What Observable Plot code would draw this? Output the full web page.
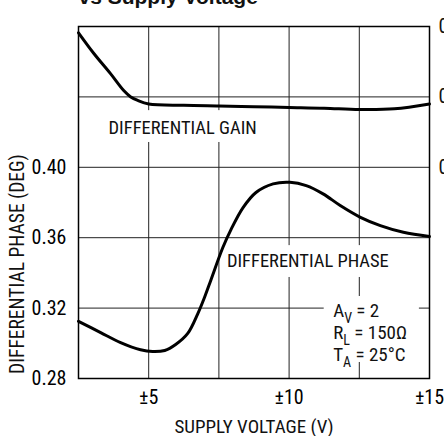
<!DOCTYPE html>
<html><head><meta charset="utf-8">
<script src="https://cdn.jsdelivr.net/npm/d3@7"></script>
<script src="https://cdn.jsdelivr.net/npm/@observablehq/plot@0.6"></script>
<style>
body{margin:0;background:#fff;}
#chart svg{display:block;}
</style></head><body><div id="chart"></div>
<script>
// ---- data ----
const gainSupply = [2.5, 3.04, 3.64, 4.11, 4.36, 4.61, 5.0, 6.25, 7.5, 8.75, 10, 11.25, 12.5, 13.75, 15];
const gainPct    = [0.0291, 0.0262, 0.0233, 0.0209, 0.0200, 0.0195, 0.0190, 0.0188, 0.0187, 0.0186, 0.0185, 0.0184, 0.0182, 0.0183, 0.0190];
const phaseSupply = [2.5, 3.29, 4.0, 4.71, 5.14, 5.57, 5.96, 6.39, 6.75, 7.0, 7.21, 7.64, 7.93, 8.36, 8.82, 9.43, 10.03, 10.61, 11.21, 11.82, 12.54, 13.25, 14.07, 15];
const phaseDeg    = [0.3125, 0.3061, 0.3004, 0.2963, 0.2953, 0.2959, 0.2993, 0.3056, 0.3169, 0.3266, 0.3357, 0.3544, 0.3646, 0.3771, 0.3857, 0.3906, 0.3915, 0.3896, 0.3849, 0.3783, 0.3716, 0.3669, 0.3631, 0.3607];

const xTicks = [5, 10, 15];
const xTickLabels = ["±5", "±10", "±15"];
const yTicks = [0.28, 0.32, 0.36, 0.40];
const yTickLabels = ["0.28", "0.32", "0.36", "0.40"];
const gainTicks = [0.03, 0.02, 0.01];
const gainTickLabels = ["0.03", "0.02", "0.01"];
const gridX = [5, 7.5, 10, 12.5];
const gridY = [0.32, 0.36, 0.40, 0.44];

const titleText = "vs Supply Voltage";
const xLabel = "SUPPLY VOLTAGE (V)";
const yLabel = "DIFFERENTIAL PHASE (DEG)";
const curveLabels = ["DIFFERENTIAL GAIN", "DIFFERENTIAL PHASE"];
const curveLabelX = [3.57, 7.786];
const curveLabelY = [0.4192, 0.3431];
const condMain = ["A", "R", "T"];
const condSub = ["V", "L", "A"];
const condRest = [" = 2", " = 150Ω", " = 25°C"];
const condX = 11.57;
const condY = [0.3147, 0.3027, 0.2902];
const yLabelCenter = 0.345;
// blank areas where the grid is interrupted behind the labels (x1, x2 in volts; y1, y2 on the phase axis)
const gapX1 = [3.29, 7.57, 11.25];
const gapX2 = [9.21, 13.86, 14.64];
const gapY1 = [0.4141, 0.3374, 0.2891];
const gapY2 = [0.4322, 0.3555, 0.3266];

// gain (right axis) mapped onto the phase axis
const gainToAxis = g => 0.40 + (g - 0.01) * 4;

const gainRows = gainSupply.map((v, i) => ({v, y: gainToAxis(gainPct[i])}));
const phaseRows = phaseSupply.map((v, i) => ({v, y: phaseDeg[i]}));
const labelRows = curveLabels.map((t, i) => ({t, x: curveLabelX[i], y: curveLabelY[i]}));
const condRows = condMain.map((m, i) => ({t: m + condSub[i] + condRest[i], x: condX, y: condY[i]}));
const gapRows = gapX1.map((x1, i) => ({x1, x2: gapX2[i], y1: gapY1[i], y2: gapY2[i]}));
const gainTickRows = gainTicks.map((g, i) => ({y: gainToAxis(g), t: gainTickLabels[i]}));

const font = "'Liberation Sans Narrow','Arial Narrow','Roboto Condensed',sans-serif";

const plot = Plot.plot({
  width: 444, height: 436,
  marginLeft: 78, marginRight: 15, marginTop: 26, marginBottom: 58,
  style: {fontFamily: font, fontSize: "20px", background: "white", color: "black"},
  x: {domain: [2.5, 15], ticks: xTicks, tickFormat: d => xTickLabels[xTicks.indexOf(d)], tickSize: 0, tickPadding: 11, label: null},
  y: {domain: [0.28, 0.48], ticks: yTicks, tickFormat: d => yTickLabels[yTicks.indexOf(d)], tickSize: 0, tickPadding: 12, label: null},
  marks: [
    Plot.ruleX(gridX, {stroke: "#222", strokeWidth: 1}),
    Plot.ruleY(gridY, {stroke: "#222", strokeWidth: 1}),
    Plot.rect(gapRows, {x1: "x1", x2: "x2", y1: "y1", y2: "y2", fill: "white"}),
    Plot.line(gainRows, {x: "v", y: "y", stroke: "black", strokeWidth: 3, curve: "catmull-rom"}),
    Plot.line(phaseRows, {x: "v", y: "y", stroke: "black", strokeWidth: 3, curve: "catmull-rom"}),
    Plot.frame({stroke: "black", strokeWidth: 1.5}),
    Plot.text(labelRows, {x: "x", y: "y", text: "t", textAnchor: "start", lineAnchor: "bottom", fontSize: 18.5, fill: "#111"}),
    Plot.text(condRows, {x: "x", y: "y", text: "t", textAnchor: "start", lineAnchor: "bottom", fontSize: 19, fill: "#111"}),
    Plot.text(gainTickRows, {y: "y", text: "t", frameAnchor: "right", textAnchor: "start", lineAnchor: "middle", dx: 9, fill: "#111"}),
    Plot.text([titleText], {text: d => d, frameAnchor: "top-left", textAnchor: "start", lineAnchor: "bottom", dy: -23,
      fontFamily: "'Liberation Sans',Arial,sans-serif", fontWeight: "bold", fontSize: 21, fill: "#111"}),
    Plot.text([xLabel], {text: d => d, frameAnchor: "bottom", lineAnchor: "bottom", dy: 54, fontSize: 19, fill: "#111"}),
    Plot.text([yLabel], {text: d => d, y: () => yLabelCenter, frameAnchor: "left", rotate: -90, dx: -61, textAnchor: "middle", lineAnchor: "middle", fontSize: 19.5, fill: "#111"})
  ]
});

// subscripts for the test-condition block
plot.querySelectorAll("text").forEach(t => {
  const i = condRows.findIndex(r => r.t === t.textContent);
  if (i < 0) return;
  t.textContent = "";
  const ns = "http://www.w3.org/2000/svg";
  const a = document.createElementNS(ns, "tspan"); a.textContent = condMain[i];
  const b = document.createElementNS(ns, "tspan"); b.textContent = condSub[i];
  b.setAttribute("font-size", "14"); b.setAttribute("dy", "6");
  const c = document.createElementNS(ns, "tspan"); c.textContent = condRest[i]; c.setAttribute("dy", "-6");
  t.append(a, b, c);
});
document.getElementById("chart").append(plot);
</script></body></html>
